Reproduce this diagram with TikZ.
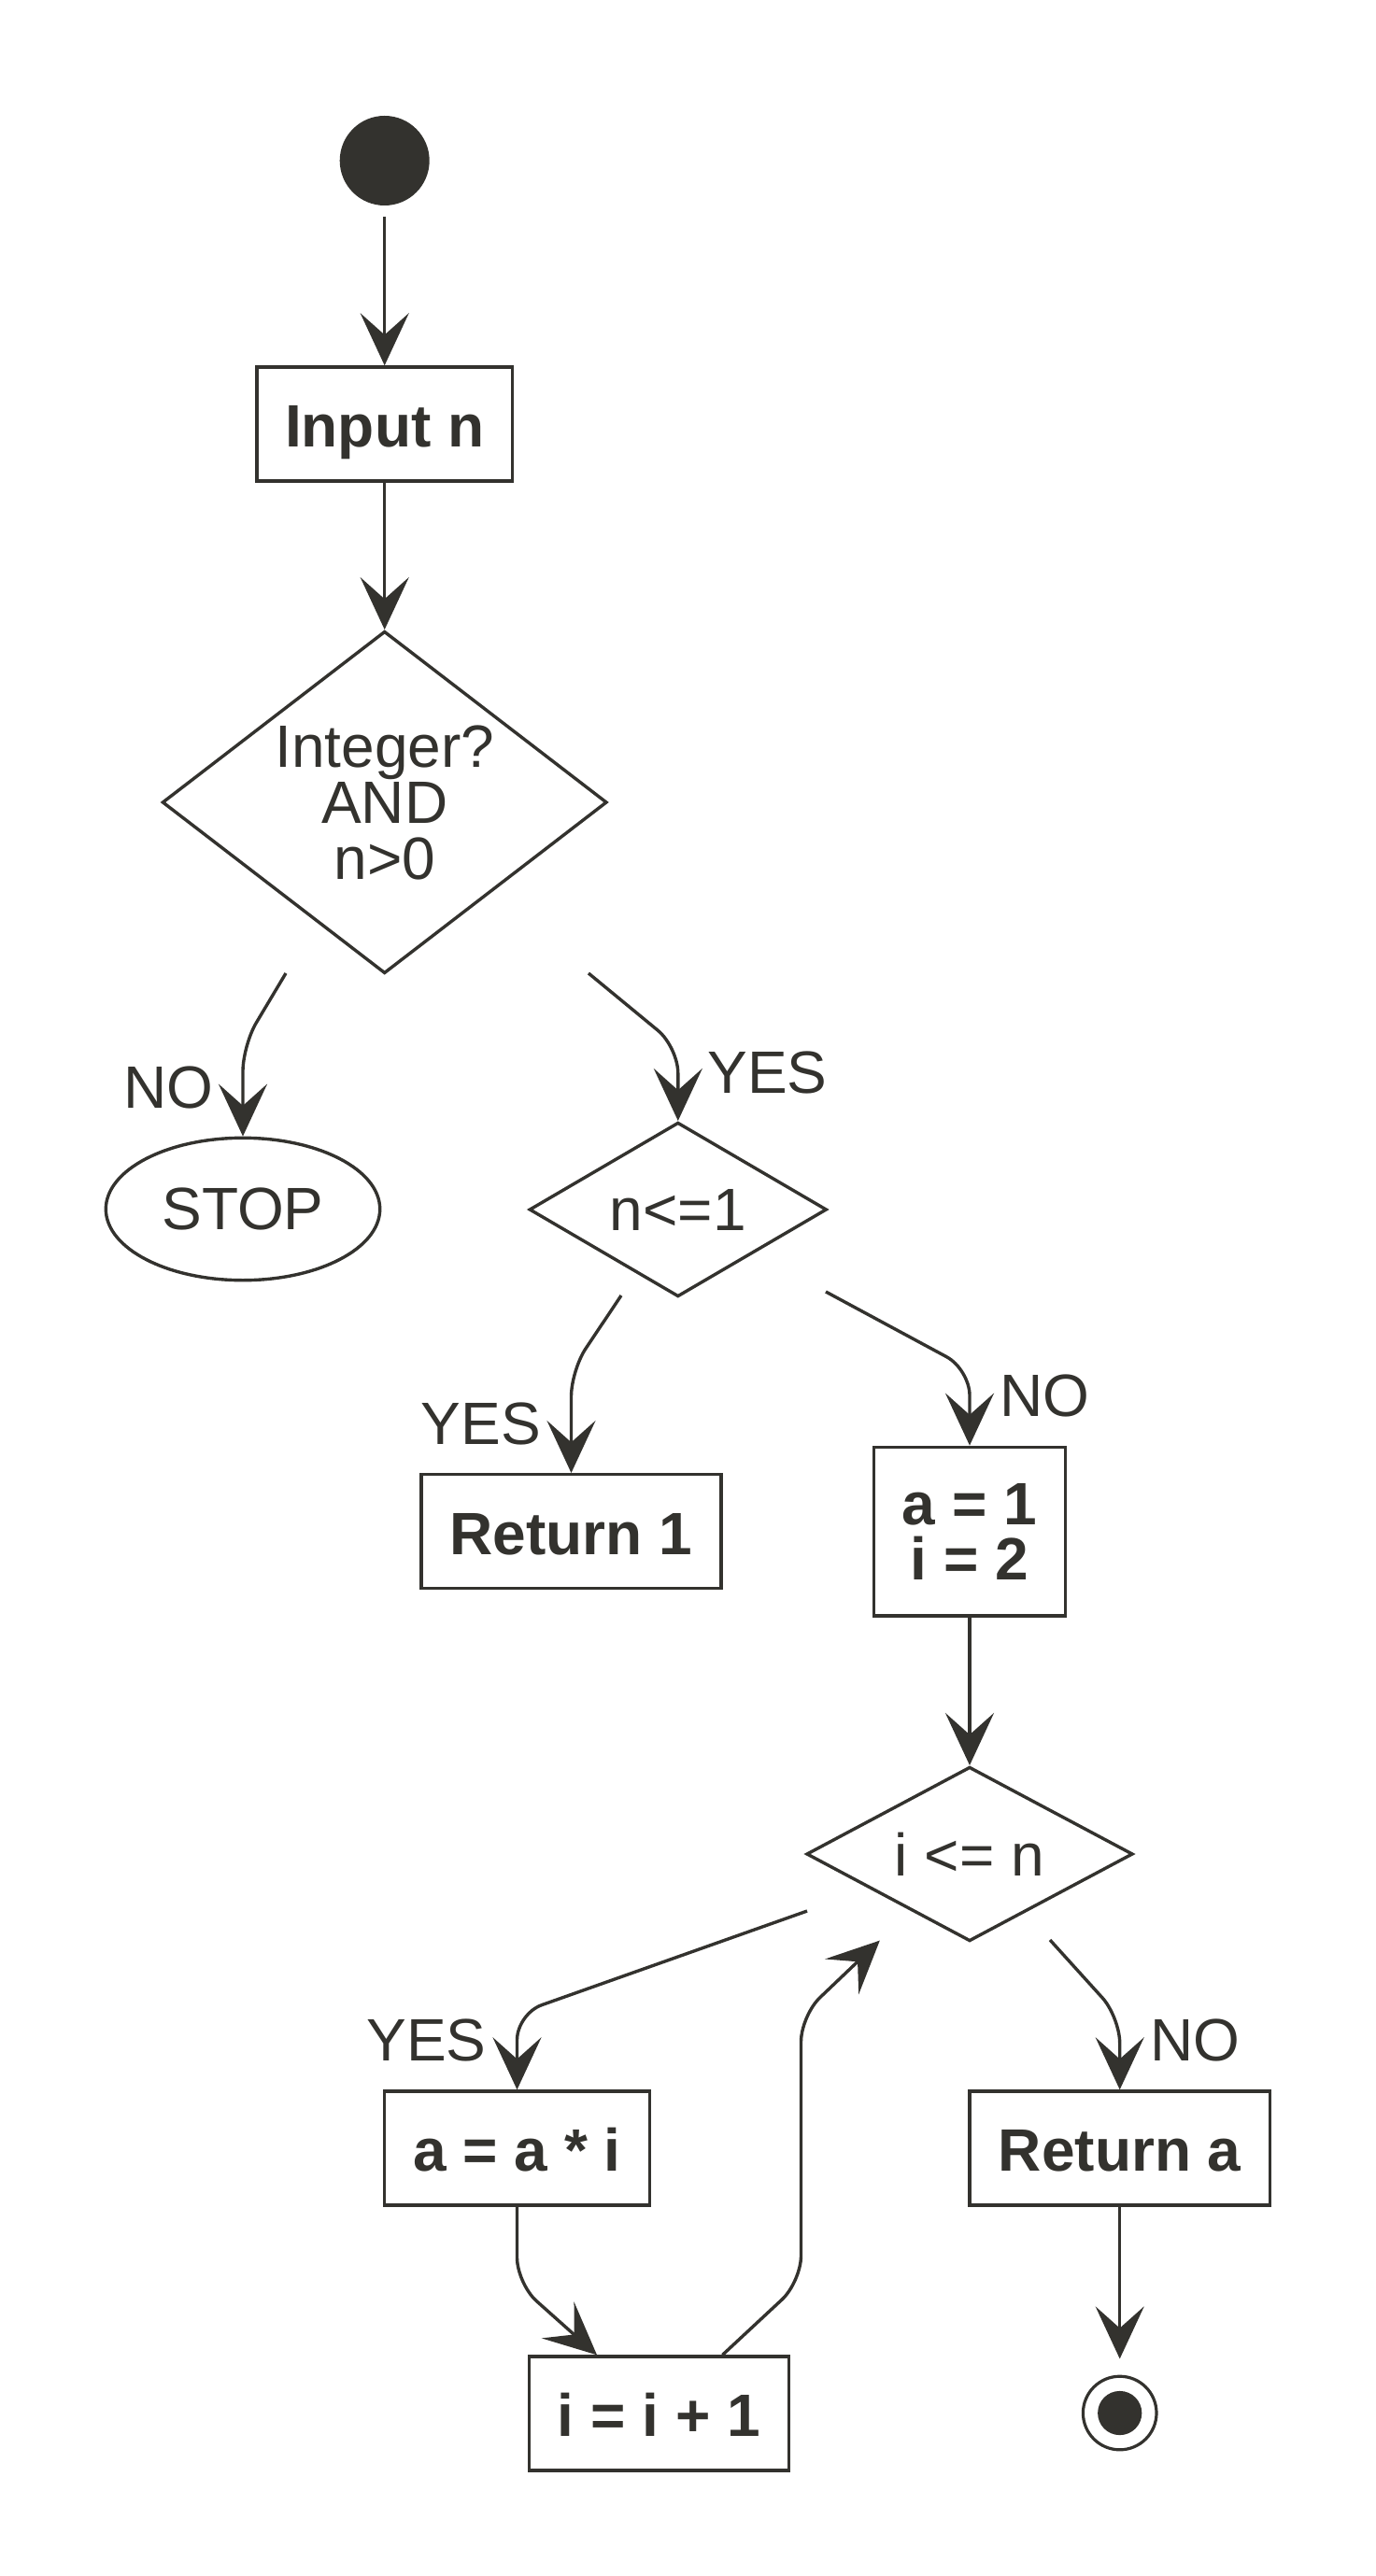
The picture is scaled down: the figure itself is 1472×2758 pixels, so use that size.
\documentclass[tikz,border=0pt]{standalone}
\usepackage{fontspec}
\setmainfont{Liberation Sans}
\usetikzlibrary{arrows.meta,shapes.geometric,calc}
\definecolor{ink}{RGB}{51,50,46}
\begin{document}
\begin{tikzpicture}[x=0.25pt,y=-0.25pt,
  every node/.style={text=ink},
  base/.style={draw=ink, line width=0.85pt, fill=white, inner sep=0pt},
  actbox/.style={base, rectangle, font=\fontsize{16pt}{14.75pt}\selectfont\bfseries, align=center, minimum height=30.5pt},
  onebox/.style={actbox, text height=12.25pt, text depth=0pt},
  decision/.style={base, diamond, font=\fontsize{16pt}{15pt}\selectfont, align=center},
  lbl/.style={font=\fontsize{16pt}{15pt}\selectfont, inner sep=0pt, anchor=base},
  conn/.style={draw=ink, line width=0.85pt, -{Stealth[length=14pt,width=13pt,inset=5.8pt]}},
  bent/.style={conn, rounded corners=7pt},
]
\fill[white] (0,0) rectangle (1472,2758);
\useasboundingbox (0,0) rectangle (1472,2758);

% nodes
\node[circle, fill=ink, minimum size=24pt, inner sep=0pt] (start) at (411.7,172) {};
\node[onebox, minimum width=68.45pt] (inp) at (411.7,454) {Input n};
\node[decision, aspect=1.3, minimum width=119pt, minimum height=91.6pt] (d1) at (411.7,859) {Integer?\\AND\\n>0};
\node[base, ellipse, minimum width=73.35pt, minimum height=38.1pt, font=\fontsize{16pt}{15pt}\selectfont] (stop) at (260,1294.5) {STOP};
\node[decision, aspect=1.7, minimum width=79.6pt, minimum height=46.65pt] (d2) at (725.8,1295) {n<=1};
\node[onebox, minimum width=80.2pt] (ret1) at (611.5,1639.7) {Return 1};
\node[actbox, minimum width=51.2pt, minimum height=45.2pt] (init) at (1038,1639.7) {a = 1\\i = 2};
\node[decision, aspect=1.87, minimum width=87.35pt, minimum height=46.65pt] (d3) at (1038,1985) {i <= n};
\node[onebox, minimum width=70.95pt] (mul) at (553.5,2300) {a = a * i};
\node[onebox, minimum width=69.4pt] (inc) at (705.4,2584) {i = i + 1};
\node[onebox, minimum width=80.4pt] (reta) at (1198.7,2300) {Return a};
\node[circle, draw=ink, line width=0.8pt, fill=white, minimum size=19.65pt, inner sep=0pt] (endc) at (1198.7,2583.5) {};
\node[circle, fill=ink, minimum size=11.8pt, inner sep=0pt] (endin) at (endc.center) {};

% labels
\node[lbl] (lno1) at (180,1186) {NO};
\node[lbl] (lyes1) at (821.5,1170) {YES};
\node[lbl] (lyes2) at (515,1546) {YES};
\node[lbl] (lno2) at (1118,1516) {NO};
\node[lbl] (lyes3) at (456.5,2206) {YES};
\node[lbl] (lno3) at (1279.5,2206) {NO};

% free connector ends
\coordinate (d1n) at (306,1042);
\coordinate (d1y) at (630,1042);
\coordinate (d2y) at (665,1387);
\coordinate (d2n) at (884,1383);
\coordinate (d3y) at (864,2046);
\coordinate (d3n) at (1124,2077);
\coordinate (incin) at ($(inc.north)+(-66.4,0)$);
\coordinate (incout) at ($(inc.north)+(68,0)$);
\coordinate (loopend) at (941.8,2077.6);

% connectors
\draw[conn, shorten <=2.75pt] (start.south) -- (inp.north);
\draw[conn] (inp.south) -- (d1.north);
\draw[bent] (d1n) -- (stop.north |- 0,1119) -- (stop.north);
\draw[bent] (d1y) -- (d2.north |- 0,1121) -- (d2.north);
\draw[bent] (d2y) -- (ret1.north |- 0,1467) -- (ret1.north);
\draw[bent] (d2n) -- (init.north |- 0,1466) -- (init.north);
\draw[conn] (init.south) -- (d3.north);
\draw[bent] (d3y) -- (mul.north |- 0,2156) -- (mul.north);
\draw[bent] (mul.south) -- (mul.south |- 0,2445) -- (incin);
\draw[bent] (incout) -- (857.5,2443) -- (857.5,2158) -- (loopend);
\draw[bent] (d3n) -- (reta.north |- 0,2159.5) -- (reta.north);
\draw[conn, shorten >=4.3pt] (reta.south) -- (endc.north);
\end{tikzpicture}
\end{document}
